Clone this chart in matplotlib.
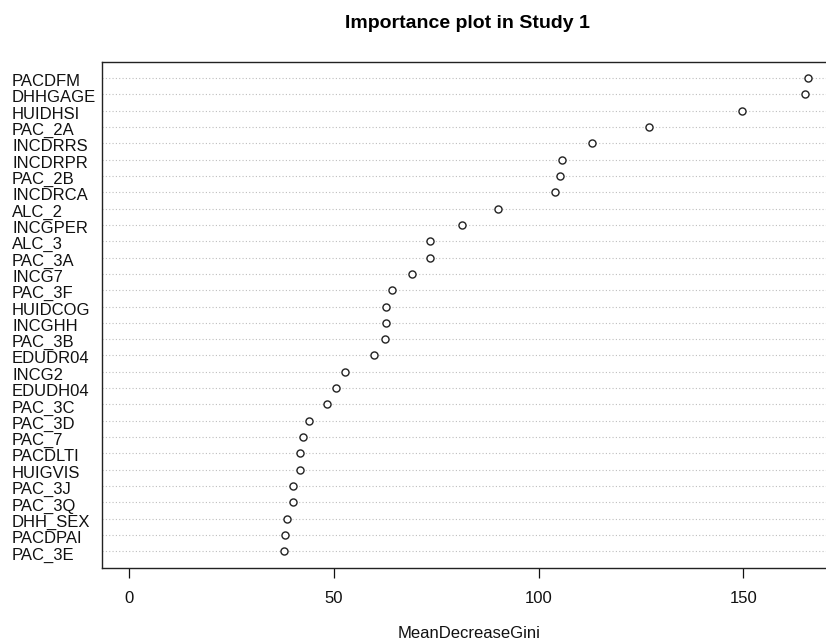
import matplotlib
matplotlib.use("Agg")
import matplotlib.pyplot as plt
import matplotlib.transforms as mtransforms
import numpy as np

plt.rcParams['font.family'] = ['Liberation Sans', 'DejaVu Sans']

# variables, top to bottom as shown in the chart
variables = ['PACDFM', 'DHHGAGE', 'HUIDHSI', 'PAC_2A', 'INCDRRS', 'INCDRPR', 'PAC_2B',
             'INCDRCA', 'ALC_2', 'INCGPER', 'ALC_3', 'PAC_3A', 'INCG7', 'PAC_3F',
             'HUIDCOG', 'INCGHH', 'PAC_3B', 'EDUDR04', 'INCG2', 'EDUDH04', 'PAC_3C',
             'PAC_3D', 'PAC_7', 'PACDLTI', 'HUIGVIS', 'PAC_3J', 'PAC_3Q', 'DHH_SEX',
             'PACDPAI', 'PAC_3E']
gini = [165.9, 165.1, 149.6, 126.9, 113.0, 105.7, 105.2,
        103.9, 90.2, 81.2, 73.6, 73.6, 69.0, 64.3,
        62.8, 62.8, 62.5, 59.7, 52.8, 50.4, 48.4,
        44.0, 42.5, 41.8, 41.8, 39.9, 39.9, 38.6,
        38.1, 37.9]
ticks = [0, 50, 100, 150]

n = len(variables)
ypos = np.arange(n, 0, -1)

fig = plt.figure(figsize=(8.26, 6.43), dpi=100)
ax = fig.add_axes([0.1235, 0.1171, 0.888, 0.787])

for y in ypos:
    ax.axhline(y, color='#bebebe', lw=0.8, linestyle=(0, (1, 2)), zorder=1)
ax.scatter(gini, ypos, s=26, facecolors='white', edgecolors='#222222',
           linewidths=1.0, zorder=3)

xmax = max(gini)
ax.set_xlim(-0.04 * xmax, 1.04 * xmax)
ax.set_ylim(0, n + 1)
ax.set_yticks([])
ax.set_xticks(ticks)
ax.set_xticklabels([str(t) for t in ticks])
ax.tick_params(axis='x', length=7, width=0.9, pad=10, labelsize=12, colors='#111111')

for s in ax.spines.values():
    s.set_linewidth(1.0)
    s.set_color('#222222')

# row labels sit on a baseline a little below each dot, like R's dotchart
trans = mtransforms.blended_transform_factory(fig.transFigure, ax.transData)
trans = trans + mtransforms.ScaledTranslation(0, -8 / 100, fig.dpi_scale_trans)
for name, y in zip(variables, ypos):
    ax.text(12 / 826, y, name, transform=trans, ha='left', va='baseline',
            fontsize=12, color='#111111', clip_on=False)

ax.set_xlabel('MeanDecreaseGini', fontsize=12, labelpad=14, color='#111111')
fig.text(467 / 826, 1 - 24 / 643, 'Importance plot in Study 1', ha='center', va='center',
         fontsize=14, fontweight='bold', color='#000000')

fig.savefig('out.png', dpi=100)
